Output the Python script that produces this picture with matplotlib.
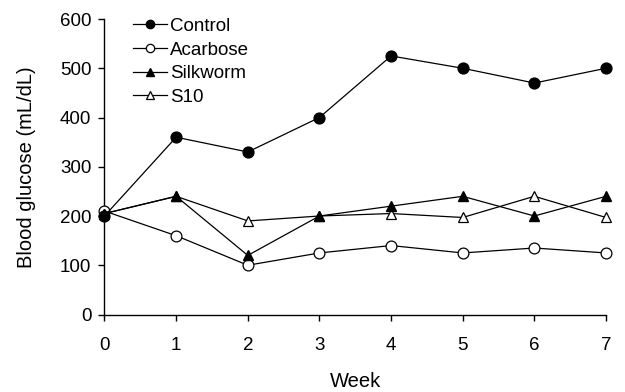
import matplotlib
matplotlib.use("Agg")
import matplotlib.pyplot as plt

plt.rcParams['font.family'] = ['Liberation Sans', 'DejaVu Sans']

weeks = [0, 1, 2, 3, 4, 5, 6, 7]
control = [200, 360, 330, 400, 525, 500, 470, 500]
acarbose = [210, 160, 100, 125, 140, 125, 135, 125]
silkworm = [205, 240, 120, 200, 220, 240, 200, 240]
s10 = [205, 240, 190, 200, 205, 197, 240, 197]

fs = 13.5
fs_label = 14.5
fig = plt.figure(figsize=(6.25, 3.92), dpi=100)
ax = fig.add_axes([0.1672, 0.1977, 0.8024, 0.7538])

lw = 0.9
ms = 7.8
ax.plot(weeks, control, '-o', color='black', lw=lw, ms=ms, mfc='black', mec='black', label='Control', clip_on=False, zorder=4)
ax.plot(weeks, acarbose, '-o', color='black', lw=lw, ms=ms, mfc='white', mec='black', mew=0.9, label='Acarbose', clip_on=False, zorder=3)
ax.plot(weeks, silkworm, '-^', color='black', lw=lw, ms=ms, mfc='black', mec='black', label='Silkworm', clip_on=False, zorder=5)
ax.plot(weeks, s10, '-^', color='black', lw=lw, ms=ms, mfc='white', mec='black', mew=0.9, label='S10', clip_on=False, zorder=3)

ax.set_xlim(0, 7)
ax.set_ylim(0, 600)
ax.set_xticks(weeks)
ax.set_yticks([0, 100, 200, 300, 400, 500, 600])
ax.spines['top'].set_visible(False)
ax.spines['right'].set_visible(False)
for s in ('left', 'bottom'):
    ax.spines[s].set_linewidth(1.0)
ax.tick_params(direction='out', length=4.5, width=1.0, labelsize=fs)
ax.tick_params(axis='x', pad=12)
ax.tick_params(axis='y', pad=5)

ax.set_xlabel('Week', fontsize=fs_label)
ax.set_ylabel('Blood glucose (mL/dL)', fontsize=fs_label)
ax.xaxis.set_label_coords(0.5, -0.195)
ax.yaxis.set_label_coords(-0.1366, 0.5)

leg = ax.legend(loc='upper left', bbox_to_anchor=(0.207, 0.964), bbox_transform=fig.transFigure,
                frameon=False, fontsize=fs, handlelength=1.8, handletextpad=0.16,
                labelspacing=0.35, borderpad=0.2, borderaxespad=0, markerscale=0.77)

fig.savefig('out.png', dpi=100)
